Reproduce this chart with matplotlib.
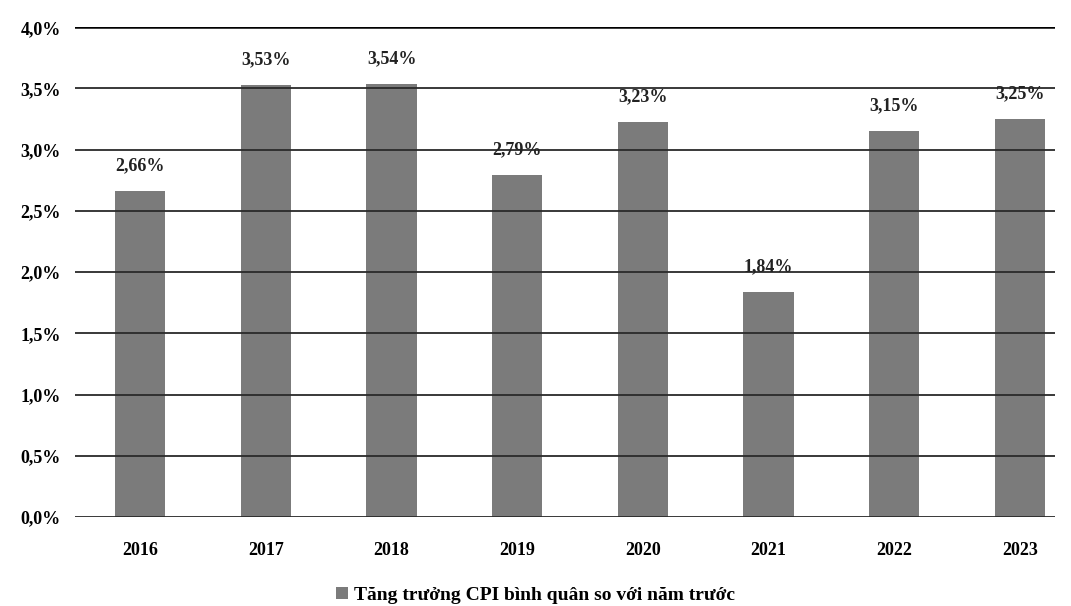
import matplotlib.pyplot as plt
from matplotlib.ticker import FuncFormatter

years = ['2016', '2017', '2018', '2019', '2020', '2021', '2022', '2023']
cpi = [2.66, 3.53, 3.54, 2.79, 3.23, 1.84, 3.15, 3.25]
legend_label = 'Tăng trưởng CPI bình quân so với năm trước'

plt.rcParams['font.family'] = ['Liberation Serif', 'DejaVu Serif']
plt.rcParams['font.weight'] = 'bold'

fig = plt.figure(figsize=(10.71, 6.06), dpi=100)
ax = fig.add_axes([0.07, 0.147, 0.915, 0.808])

x = range(len(years))
bars = ax.bar(x, cpi, width=0.4, color='#7b7b7b', zorder=1, label=legend_label)

ax.set_ylim(0, 4.0)
ax.set_xlim(-0.52, 7.28)
ax.set_yticks([i * 0.5 for i in range(9)])
ax.yaxis.set_major_formatter(FuncFormatter(lambda v, p: f'{v:.1f}%'.replace('.', ',')))
ax.grid(axis='y', color='#2a2a2a', linewidth=1.3, zorder=2)
ax.axhline(4.0, color='black', linewidth=1.8, zorder=3)
ax.set_axisbelow(False)
ax.set_xticks(list(x))
ax.set_xticklabels(years)
ax.tick_params(axis='y', length=0, labelsize=13, pad=10)
ax.tick_params(axis='x', length=0, labelsize=13, pad=18)
for s in ax.spines.values():
    s.set_visible(False)

for b, v in zip(bars, cpi):
    ax.annotate(f'{v:.2f}%'.replace('.', ','), (b.get_x() + b.get_width() / 2, v),
                xytext=(0, 12), textcoords='offset points', ha='center', va='bottom',
                fontsize=13, fontweight='bold', color='#222222')

fig.legend(handles=[bars], labels=[legend_label], loc='lower center', frameon=False,
           fontsize=14, handlelength=0.6, handleheight=0.6, handletextpad=0.3,
           bbox_to_anchor=(0.5, -0.025))

plt.savefig('out.png', dpi=100)
